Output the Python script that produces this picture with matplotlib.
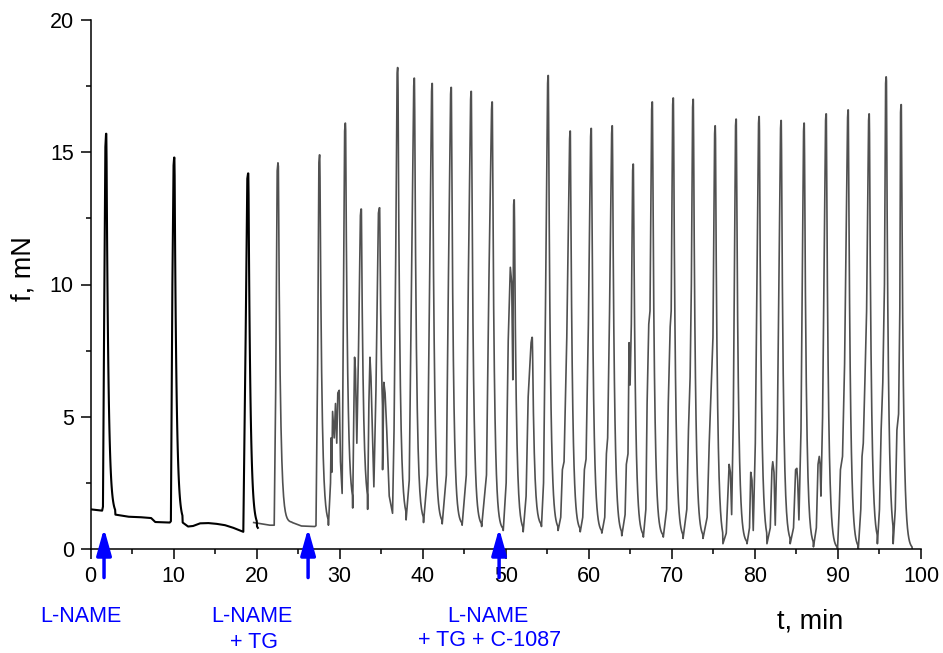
import numpy as np
import matplotlib
matplotlib.use("Agg")
import matplotlib.pyplot as plt
from matplotlib.ticker import MultipleLocator

plt.rcParams['font.family'] = ['Liberation Sans', 'DejaVu Sans']

# ---------------- data ----------------
# peak time (min) and peak force (mN) of each contraction
peak_t = [1.87, 10.07, 18.97, 22.57, 27.57, 30.67, 32.57, 34.77, 36.97, 38.97,
          41.12, 43.41, 45.82, 48.34, 50.99, 53.16, 55.09, 57.74, 60.27, 62.80,
          65.33, 67.62, 70.15, 72.55, 75.20, 77.72, 80.49, 83.14, 85.91, 88.56,
          91.21, 93.74, 95.79, 97.59]
peak_f = [15.7, 14.8, 14.2, 14.6, 14.9, 16.1, 12.85, 12.9, 18.2, 17.8,
          17.6, 17.45, 17.3, 16.9, 13.2, 8.0, 17.9, 15.8, 15.9, 16.0,
          14.55, 16.9, 17.05, 17.0, 16.0, 16.25, 16.35, 16.2, 16.1, 16.45,
          16.6, 16.45, 17.85, 16.8]

# points on the rising phase of each contraction (trough, shoulders, small bumps)
rise_pts = [
    [(0.0, 1.5), (1.4, 1.45), (1.5, 1.6), (1.65, 9.0), (1.79, 15.2)],
    [(9.68, 1.05), (9.86, 10.0), (10.0, 14.5)],
    [(18.4, 0.65), (18.68, 8.0), (18.88, 14.0)],
    [(19.65, 1.0), (20.6, 0.95), (21.6, 0.9), (22.12, 0.9), (22.3, 6.0), (22.48, 14.3)],
    [(27.15, 0.88), (27.35, 7.0), (27.5, 14.6)],
    [(28.65, 0.9), (28.9, 2.5), (28.97, 4.2), (29.05, 2.9), (29.15, 5.2), (29.35, 4.2),
     (29.5, 5.5), (29.65, 4.0), (29.78, 5.9), (29.95, 6.0), (30.1, 3.3), (30.3, 2.1),
     (30.45, 9.0), (30.6, 15.8)],
    [(31.57, 1.55), (31.7, 5.0), (31.8, 7.25), (31.9, 6.8), (32.07, 4.0), (32.27, 7.5), (32.5, 12.6)],
    [(33.37, 1.5), (33.52, 5.5), (33.65, 7.25), (33.77, 6.5), (34.12, 2.35), (34.37, 6.0), (34.67, 12.7)],
    [(36.37, 1.35), (36.55, 4.5), (36.75, 11.0), (36.92, 18.0)],
    [(38.0, 1.1), (38.38, 2.6), (38.65, 10.0), (38.92, 17.5)],
    [(40.1, 1.0), (40.58, 2.8), (40.83, 10.0), (41.07, 17.3)],
    [(42.35, 0.95), (42.85, 2.8), (43.1, 10.3), (43.36, 17.2)],
    [(44.75, 0.9), (45.25, 2.8), (45.5, 10.3), (45.77, 17.0)],
    [(47.1, 0.85), (47.68, 2.8), (47.98, 10.3), (48.29, 16.6)],
    [(49.7, 0.7), (50.05, 2.5), (50.3, 7.9), (50.55, 10.65), (50.72, 10.05), (50.85, 6.4), (50.95, 13.0)],
    [(52.1, 0.65), (52.45, 2.0), (52.7, 5.75), (53.05, 7.8)],
    [(54.3, 0.85), (54.55, 2.5), (54.78, 9.0), (55.04, 17.6)],
    [(56.3, 0.7), (56.62, 1.2), (56.82, 3.0), (57.02, 3.3), (57.35, 8.0), (57.69, 15.5)],
    [(58.97, 0.65), (59.27, 1.2), (59.47, 3.0), (59.67, 3.4), (59.95, 8.5), (60.22, 15.6)],
    [(61.57, 0.6), (61.92, 1.2), (62.12, 3.6), (62.27, 4.2), (62.5, 9.0), (62.75, 15.7)],
    [(63.97, 0.5), (64.37, 1.3), (64.52, 3.2), (64.72, 3.6), (64.85, 7.8), (64.97, 6.2), (65.12, 8.5), (65.28, 14.3)],
    [(66.57, 0.45), (66.87, 1.5), (67.02, 5.5), (67.22, 8.5), (67.37, 9.0), (67.57, 16.6)],
    [(68.97, 0.45), (69.37, 1.5), (69.57, 5.5), (69.8, 8.4), (69.92, 9.0), (70.1, 16.8)],
    [(71.35, 0.4), (71.8, 1.5), (72.0, 4.5), (72.2, 6.5), (72.35, 10.0), (72.5, 16.7)],
    [(73.75, 0.4), (74.25, 1.2), (74.5, 4.0), (74.8, 6.6), (74.95, 8.0), (75.15, 15.7)],
    [(76.15, 0.2), (76.55, 0.6), (76.8, 2.5), (76.9, 3.2), (77.05, 2.9), (77.2, 1.3), (77.4, 5.0), (77.67, 16.0)],
    [(79.05, 0.2), (79.35, 0.8), (79.5, 2.9), (79.65, 2.6), (79.8, 0.7), (80.05, 4.0), (80.44, 16.1)],
    [(81.45, 0.2), (81.85, 0.8), (82.05, 3.0), (82.15, 3.3), (82.3, 2.9), (82.45, 0.9), (82.7, 4.5), (83.09, 15.9)],
    [(84.25, 0.2), (84.65, 0.8), (84.9, 3.0), (85.05, 3.05), (85.15, 2.6), (85.3, 1.1), (85.55, 4.5), (85.86, 15.8)],
    [(87.05, 0.08), (87.4, 0.8), (87.6, 3.2), (87.75, 3.5), (87.85, 3.2), (87.95, 2.0), (88.15, 5.0), (88.51, 16.2)],
    [(89.95, 0.0), (90.15, 1.5), (90.3, 3.0), (90.4, 3.2), (90.55, 3.5), (90.8, 7.0), (91.16, 16.3)],
    [(92.45, 0.0), (92.75, 1.5), (92.9, 3.5), (93.05, 4.0), (93.25, 6.4), (93.45, 9.0), (93.69, 16.2)],
    [(94.75, 0.2), (95.0, 1.5), (95.2, 4.5), (95.4, 6.3), (95.6, 10.0), (95.74, 17.6)],
    [(96.65, 0.2), (96.9, 1.5), (97.1, 4.5), (97.3, 5.1), (97.45, 9.0), (97.54, 16.5)],
]

# baseline points after a contraction's relaxation (where not a plain relaxation)
tail_pts = {
    0: [(3.0, 1.3), (4.6, 1.22), (6.1, 1.2), (7.3, 1.17), (7.8, 1.02), (9.55, 1.0)],
    1: [(11.1, 1.0), (11.75, 0.85), (12.35, 0.87), (13.2, 0.97), (14.2, 0.98),
        (15.2, 0.95), (16.2, 0.9), (17.2, 0.8)],
    2: [(20.05, 0.85), (20.15, 0.8)],
    3: [(24.3, 1.0), (25.4, 0.87), (27.0, 0.85)],
    7: [(35.17, 3.0), (35.32, 6.3), (35.47, 5.9), (35.67, 4.5), (35.97, 2.0)],
    33: [(98.95, 0.0)],
}

# drug additions
arrow_t = [1.63, 26.2, 49.2]
drug_line1 = ["L-NAME", "L-NAME", "L-NAME"]
drug_line2 = ["", "+ TG", "+ TG + C-1087"]

# ---------------- build the trace ----------------
TAU, HOLD = 0.24, 0.05


def build(beats):
    ts, fs = [], []
    for i in beats:
        for (t, f) in rise_pts[i]:
            ts.append(t); fs.append(f)
        ts.append(peak_t[i]); fs.append(peak_f[i])
        if i in tail_pts:
            end = tail_pts[i][0]
        elif i + 1 < len(rise_pts):
            end = rise_pts[i + 1][0]
        else:
            end = None
        if end is not None:
            dts = np.linspace(0, end[0] - peak_t[i], 34)[1:-1]
            for dt in dts:
                ts.append(peak_t[i] + dt)
                fs.append(end[1] + (peak_f[i] - end[1]) * np.exp(-max(0.0, dt - HOLD) / TAU))
        if i in tail_pts:
            for (t, f) in tail_pts[i]:
                ts.append(t); fs.append(f)
    return np.array(ts), np.array(fs)


t_black, f_black = build(range(0, 3))
t_grey, f_grey = build(range(3, len(peak_t)))

# ---------------- draw ----------------
W, H = 943, 653
fig = plt.figure(figsize=(W / 100, H / 100), dpi=100)
ax = fig.add_axes([90.5 / W, 1 - 549 / H, (921 - 90.5) / W, (549 - 20) / H])

ax.plot(t_grey, f_grey, color='#505050', lw=1.2, solid_joinstyle='round')
ax.plot(t_black, f_black, color='#000000', lw=1.5, solid_joinstyle='round')

ax.set_xlim(0, 100)
ax.set_ylim(0, 20)
for s in ['top', 'right']:
    ax.spines[s].set_visible(False)
for s in ['left', 'bottom']:
    ax.spines[s].set_linewidth(1.1)

ax.xaxis.set_major_locator(MultipleLocator(10))
ax.xaxis.set_minor_locator(MultipleLocator(5))
ax.yaxis.set_major_locator(MultipleLocator(5))
ax.yaxis.set_minor_locator(MultipleLocator(2.5))
ax.tick_params(which='major', direction='out', length=7, width=1.1, labelsize=15.5, pad=5)
ax.tick_params(which='minor', direction='out', length=3.6, width=1.1)

fig.text(24 / W, 1 - 269 / H, 'f, mN', rotation=90, ha='center', va='center', fontsize=19.5)
fig.text(810 / W, 1 - 621 / H, 't, min', ha='center', va='center', fontsize=19.5)

# arrows
for t in arrow_t:
    ax.annotate('', xy=(t, 0.78), xytext=(t, -1.08), xycoords='data', textcoords='data',
                annotation_clip=False,
                arrowprops=dict(arrowstyle='-|>,head_length=1.6,head_width=0.45',
                                mutation_scale=10, color='#0000FF', lw=2.5,
                                shrinkA=0, shrinkB=0))

line1_pos = [(81, 616), (252, 616), (488, 616)]
line2_pos = [(81, 643), (254, 643), (490, 641)]
for (x1, y1), (x2, y2), a, b in zip(line1_pos, line2_pos, drug_line1, drug_line2):
    fig.text(x1 / W, 1 - y1 / H, a, ha='center', va='center', fontsize=15.5, color='#0000FF')
    if b:
        fig.text(x2 / W, 1 - y2 / H, b, ha='center', va='center', fontsize=15.5, color='#0000FF')

fig.savefig('out.png', dpi=100)
